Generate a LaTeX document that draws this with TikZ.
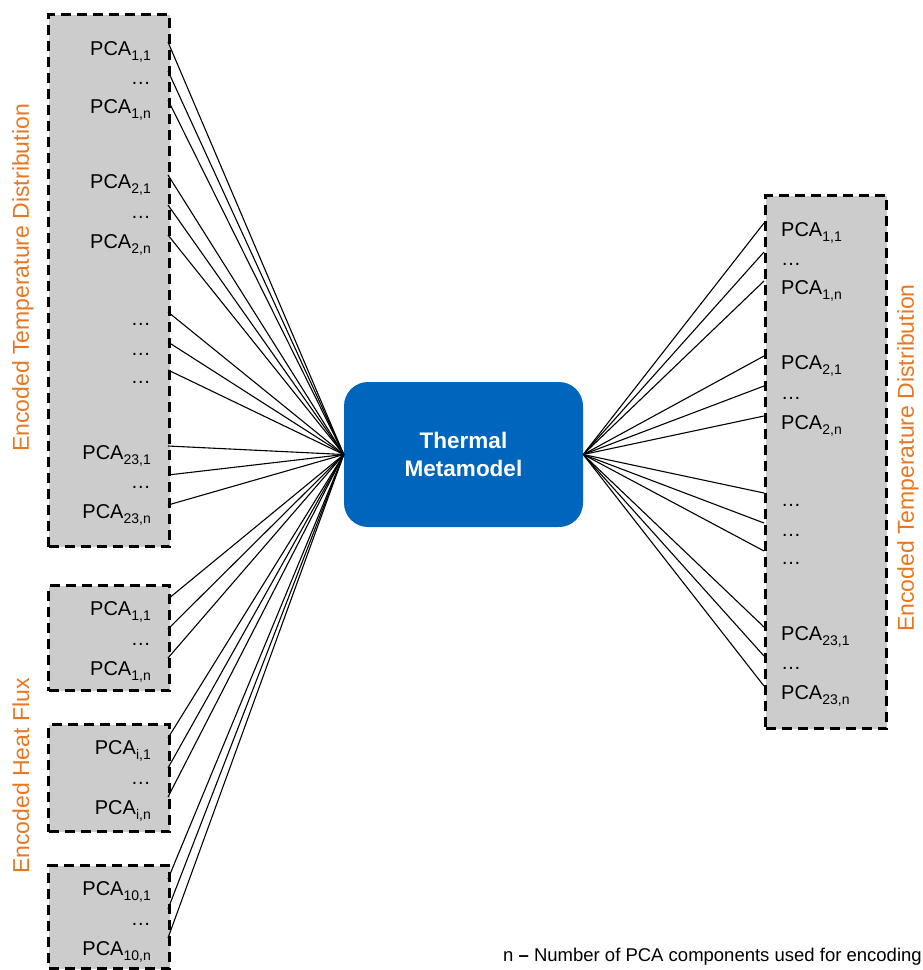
\documentclass[tikz,border=0pt]{standalone}
\usepackage{fontspec}
\setmainfont{Liberation Sans}

\definecolor{boxgray}{RGB}{204,204,204}
\definecolor{modelblue}{RGB}{0,101,189}
\definecolor{labelorange}{RGB}{232,119,34}

% PCA component label with a lowered, smaller index
\newcommand{\pcasub}[1]{\raisebox{-5pt}{\fontsize{14}{14}\selectfont #1}}
\newcommand{\pca}[1]{PCA\pcasub{#1}}

\tikzset{
  group/.style={draw=black, line width=3pt, dash pattern=on 10pt off 6pt,
    fill=boxgray, inner sep=0pt, anchor=north west},
  item/.style={inner sep=0pt, font=\fontsize{20}{24}\selectfont},
  link/.style={line width=1.1pt},
  sidelabel/.style={rotate=90, text=labelorange, inner sep=0pt,
    font=\fontsize{23}{28}\selectfont},
  model/.style={fill=modelblue, rounded corners=24pt, minimum width=239pt,
    minimum height=145pt, inner sep=0pt, text=white, align=center,
    font=\bfseries\fontsize{22.5}{28}\selectfont}
}

\begin{document}
\begin{tikzpicture}[x=1pt, y=-1pt]
\useasboundingbox (0,0) rectangle (923,970);

% metamodel in the middle
\node[model] (mm) at (463.5,454.5) {Thermal\\Metamodel};

% input: encoded temperature distribution
\node[group, minimum width=121pt, minimum height=532pt] (tin) at (47,13) {};
\foreach \k/\dy/\txt in {1/29/{\pca{1,1}}, 2/58/{\ldots}, 3/87/{\pca{1,n}},
    4/162/{\pca{2,1}}, 5/192/{\ldots}, 6/222/{\pca{2,n}},
    7/299/{\ldots}, 8/329/{\ldots}, 9/357/{\ldots},
    10/433/{\pca{23,1}}, 11/462/{\ldots}, 12/492/{\pca{23,n}}} {
  \node[item, anchor=base east] (tint\k) at (151,{13+\dy+13}) {\txt};
  \coordinate (tinc\k) at (168,{13+\dy});
}

% output: encoded temperature distribution
\node[group, minimum width=121pt, minimum height=533pt] (tout) at (764,194) {};
\foreach \k/\dy/\txt in {1/29/{\pca{1,1}}, 2/58/{\ldots}, 3/87/{\pca{1,n}},
    4/162/{\pca{2,1}}, 5/192/{\ldots}, 6/222/{\pca{2,n}},
    7/299/{\ldots}, 8/329/{\ldots}, 9/357/{\ldots},
    10/433/{\pca{23,1}}, 11/462/{\ldots}, 12/492/{\pca{23,n}}} {
  \node[item, anchor=base west] (toutt\k) at (781,{194+\dy+13}) {\txt};
  \coordinate (toutc\k) at (764,{194+\dy});
}

% input: encoded heat flux
\foreach \b/\top/\h/\ia/\ib in {1/584/105/{1,1}/{1,n}, 2/723/107/{i,1}/{i,n},
    3/864/103/{10,1}/{10,n}} {
  \node[group, minimum width=121pt, minimum height=\h pt] (hf\b) at (47,\top) {};
  \node[item, anchor=base east] (hf\b t1) at (151,{\top+31}) {\pca{\ia}};
  \node[item, anchor=base east] (hf\b t2) at (151,{\top+61}) {\ldots};
  \node[item, anchor=base east] (hf\b t3) at (151,{\top+91}) {\pca{\ib}};
  \coordinate (hf\b c1) at (168,{\top+15});
  \coordinate (hf\b c2) at (168,{\top+45});
  \coordinate (hf\b c3) at (168,{\top+74});
}

% connectors into and out of the metamodel
\foreach \k in {1,...,12} {
  \draw[link] (tinc\k) -- (mm.west);
  \draw[link] (mm.east) -- (toutc\k);
}
\foreach \b in {1,2,3} {
  \foreach \r in {1,2,3} {
    \draw[link] (hf\b c\r) -- (mm.west);
  }
}

% group captions
\node[sidelabel] (captin) at (23,278) {Encoded Temperature Distribution};
\node[sidelabel] (captflux) at (21,776) {Encoded Heat Flux};
\node[sidelabel] (captout) at (908,458) {Encoded Temperature Distribution};

% footnote
\node[anchor=base west, inner sep=0pt, font=\fontsize{18.5}{22}\selectfont] (note)
  at (503,961) {n {\bfseries –} Number of PCA components used for encoding};
\end{tikzpicture}
\end{document}
